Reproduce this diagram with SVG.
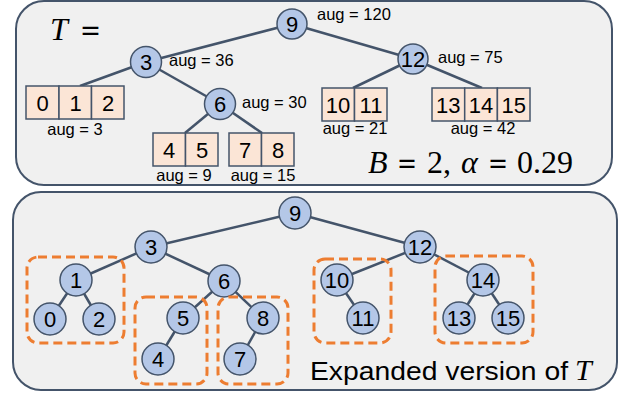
<svg xmlns="http://www.w3.org/2000/svg" width="621" height="394" viewBox="0 0 621 394">
<style>
.panel{fill:#F0F0F0;stroke:#44546A;stroke-width:2}
.edge{stroke:#44546A;stroke-width:2.5;fill:none}
.node circle{fill:#B4C7E7;stroke:#44546A;stroke-width:1.5}
.cell{fill:#FBE5D6;stroke:#44546A;stroke-width:1.5}
.lbl{font-family:"Liberation Sans",Arial,sans-serif;font-size:22px;fill:#000;text-anchor:middle}
.aug{font-family:"Liberation Sans",Arial,sans-serif;font-size:16.5px;fill:#000}
.math{font-family:"Liberation Serif","Times New Roman",serif;font-size:32px;fill:#000}
.eq{font-family:"DejaVu Serif",serif;font-size:30px;fill:#000}
.box{fill:none;stroke:#ED7D31;stroke-width:3;stroke-dasharray:9 5}
</style>
<rect class="panel" x="16" y="1" width="596" height="184" rx="28"/>
<rect class="panel" x="13" y="192" width="604" height="198" rx="28"/>
<g id="connectors">
<line class="edge" x1="292" y1="24" x2="146" y2="62"/>
<line class="edge" x1="292" y1="24" x2="413" y2="59"/>
<line class="edge" x1="146" y1="62" x2="80" y2="86"/>
<line class="edge" x1="146" y1="62" x2="220" y2="104"/>
<line class="edge" x1="220" y1="104" x2="185" y2="133"/>
<line class="edge" x1="220" y1="104" x2="262" y2="133"/>
<line class="edge" x1="413" y1="59" x2="353" y2="88"/>
<line class="edge" x1="413" y1="59" x2="482" y2="88"/>
<line class="edge" x1="295" y1="213" x2="151" y2="247"/>
<line class="edge" x1="295" y1="213" x2="420" y2="247"/>
<line class="edge" x1="151" y1="247" x2="76" y2="280"/>
<line class="edge" x1="151" y1="247" x2="224" y2="281"/>
<line class="edge" x1="76" y1="280" x2="50" y2="319"/>
<line class="edge" x1="76" y1="280" x2="99" y2="319"/>
<line class="edge" x1="224" y1="281" x2="183" y2="318"/>
<line class="edge" x1="224" y1="281" x2="263" y2="318"/>
<line class="edge" x1="183" y1="318" x2="158" y2="359"/>
<line class="edge" x1="263" y1="318" x2="240" y2="359"/>
<line class="edge" x1="420" y1="247" x2="337" y2="280"/>
<line class="edge" x1="420" y1="247" x2="483" y2="280"/>
<line class="edge" x1="337" y1="280" x2="363" y2="318"/>
<line class="edge" x1="483" y1="280" x2="459" y2="318"/>
<line class="edge" x1="483" y1="280" x2="508" y2="318"/>
</g>
<!-- top tree -->
<g id="t9" class="node"><circle cx="292" cy="24" r="15"/><text class="lbl" x="292" y="32">9</text><text class="aug" x="317" y="20">aug = 120</text></g>
<g id="t3" class="node"><circle cx="146" cy="62" r="15.5"/><text class="lbl" x="146" y="70">3</text><text class="aug" x="169" y="66">aug = 36</text></g>
<g id="t6" class="node"><circle cx="220" cy="104" r="15.5"/><text class="lbl" x="220" y="112">6</text><text class="aug" x="242" y="108">aug = 30</text></g>
<g id="t12" class="node"><circle cx="413" cy="59" r="15"/><text class="lbl" x="413" y="67">12</text><text class="aug" x="438" y="63">aug = 75</text></g>
<g id="b012">
<rect class="cell" x="26" y="86" width="33" height="33"/><rect class="cell" x="59" y="86" width="32.5" height="33"/><rect class="cell" x="91.5" y="86" width="32.5" height="33"/>
<text class="lbl" x="42.5" y="110.5">0</text><text class="lbl" x="75.5" y="110.5">1</text><text class="lbl" x="108" y="110.5">2</text>
<text class="aug" x="75" y="135" text-anchor="middle">aug = 3</text></g>
<g id="b45">
<rect class="cell" x="153" y="133" width="32.5" height="33"/><rect class="cell" x="185.5" y="133" width="32.5" height="33"/>
<text class="lbl" x="169" y="157.5">4</text><text class="lbl" x="202" y="157.5">5</text>
<text class="aug" x="184" y="181" text-anchor="middle">aug = 9</text></g>
<g id="b78">
<rect class="cell" x="229" y="133" width="32.5" height="33"/><rect class="cell" x="261.5" y="133" width="32.5" height="33"/>
<text class="lbl" x="245" y="157.5">7</text><text class="lbl" x="278" y="157.5">8</text>
<text class="aug" x="263" y="181" text-anchor="middle">aug = 15</text></g>
<g id="b1011">
<rect class="cell" x="322" y="88" width="32.5" height="33"/><rect class="cell" x="354.5" y="88" width="32.5" height="33"/>
<text class="lbl" x="338" y="112.5">10</text><text class="lbl" x="371" y="112.5">11</text>
<text class="aug" x="355" y="134" text-anchor="middle">aug = 21</text></g>
<g id="b131415">
<rect class="cell" x="432" y="88" width="32.7" height="33"/><rect class="cell" x="464.7" y="88" width="32.7" height="33"/><rect class="cell" x="497.4" y="88" width="32.6" height="33"/>
<text class="lbl" x="448.3" y="112.5">13</text><text class="lbl" x="481" y="112.5">14</text><text class="lbl" x="513.7" y="112.5">15</text>
<text class="aug" x="483" y="134" text-anchor="middle">aug = 42</text></g>
<text class="math" y="40"><tspan x="50" font-style="italic">T</tspan></text>
<text class="eq" x="80" y="40" textLength="21" lengthAdjust="spacingAndGlyphs">=</text>
<text class="math" y="173"><tspan x="368" font-style="italic">B</tspan><tspan x="427">2,</tspan><tspan x="461" font-style="italic">α</tspan><tspan x="517">0.29</tspan></text>
<text class="eq" x="397" y="173" textLength="20" lengthAdjust="spacingAndGlyphs">=</text>
<text class="eq" x="488" y="173" textLength="20" lengthAdjust="spacingAndGlyphs">=</text>
<!-- bottom tree -->
<g id="n9" class="node"><circle cx="295" cy="213" r="16"/><text class="lbl" x="295" y="221">9</text></g>
<g id="n3" class="node"><circle cx="151" cy="247" r="16"/><text class="lbl" x="151" y="255">3</text></g>
<g id="n12" class="node"><circle cx="420" cy="247" r="16"/><text class="lbl" x="420" y="255">12</text></g>
<g id="n1" class="node"><circle cx="76" cy="280" r="16"/><text class="lbl" x="76" y="288">1</text></g>
<g id="n6" class="node"><circle cx="224" cy="281" r="16"/><text class="lbl" x="224" y="289">6</text></g>
<g id="n0" class="node"><circle cx="50" cy="319" r="16"/><text class="lbl" x="50" y="327">0</text></g>
<g id="n2" class="node"><circle cx="99" cy="319" r="16"/><text class="lbl" x="99" y="327">2</text></g>
<g id="n5" class="node"><circle cx="183" cy="318" r="16"/><text class="lbl" x="183" y="326">5</text></g>
<g id="n4" class="node"><circle cx="158" cy="359" r="16"/><text class="lbl" x="158" y="367">4</text></g>
<g id="n8" class="node"><circle cx="263" cy="318" r="16"/><text class="lbl" x="263" y="326">8</text></g>
<g id="n7" class="node"><circle cx="240" cy="359" r="16"/><text class="lbl" x="240" y="367">7</text></g>
<g id="n10" class="node"><circle cx="337" cy="280" r="16"/><text class="lbl" x="337" y="288">10</text></g>
<g id="n11" class="node"><circle cx="363" cy="318" r="16"/><text class="lbl" x="363" y="326">11</text></g>
<g id="n14" class="node"><circle cx="483" cy="280" r="16"/><text class="lbl" x="483" y="288">14</text></g>
<g id="n13" class="node"><circle cx="459" cy="318" r="16"/><text class="lbl" x="459" y="326">13</text></g>
<g id="n15" class="node"><circle cx="508" cy="318" r="16"/><text class="lbl" x="508" y="326">15</text></g>
<g id="groups">
<rect class="box" x="27" y="257" width="97" height="86" rx="11"/>
<rect class="box" x="135" y="297" width="72" height="87" rx="11"/>
<rect class="box" x="218" y="297" width="70" height="87" rx="11"/>
<rect class="box" x="314" y="259" width="77" height="84" rx="11"/>
<rect class="box" x="435" y="256" width="98" height="87" rx="11"/>
</g>
<text y="380" style="font-family:'Liberation Sans',Arial,sans-serif;font-size:25px"><tspan x="310" textLength="258" lengthAdjust="spacingAndGlyphs">Expanded version of</tspan><tspan x="575" class="math" style="font-size:30px;font-style:italic">T</tspan></text>
</svg>
